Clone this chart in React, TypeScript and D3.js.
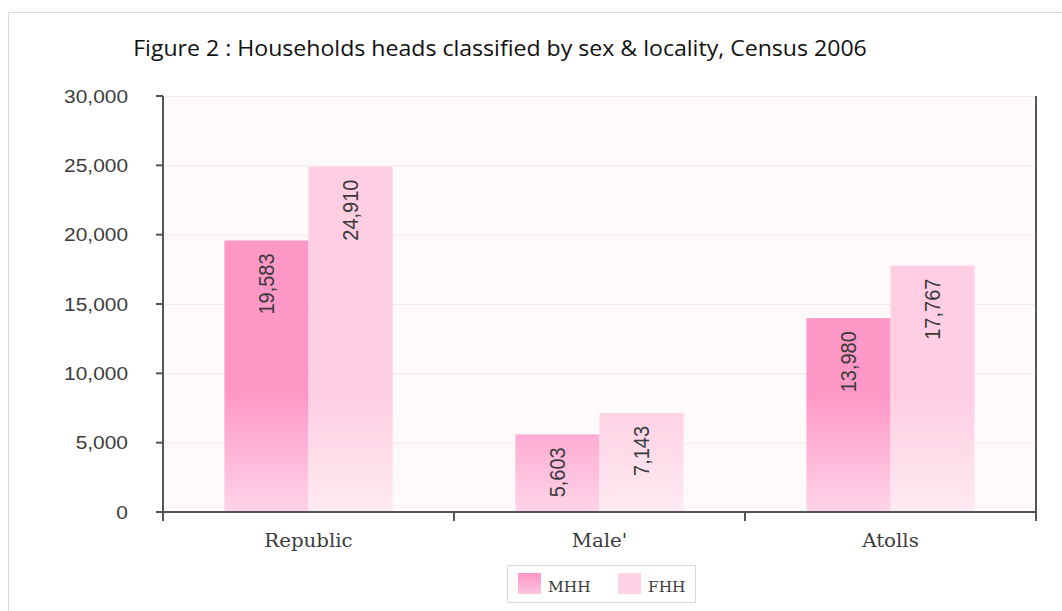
import * as d3 from 'd3'
import { useEffect, useRef } from 'react'

const W = 1062, H = 611
const SX = 1.1 // the source picture is a little stretched sideways

const title = 'Figure 2 : Households heads classified by sex & locality, Census 2006'
const categories = ['Republic', "Male'", 'Atolls']
const series = ['MHH', 'FHH']
const mhh = [19583, 5603, 13980]
const fhh = [24910, 7143, 17767]
const yTicks = [0, 5000, 10000, 15000, 20000, 25000, 30000]

const left = 163, right = 1036, top = 96, bottom = 512

const chart = (node: SVGSVGElement) => {
  const svg = d3.select(node)
  svg.selectAll('*').remove()

  const x0 = d3.scaleBand().domain(categories).range([left, right])
  const x1 = d3.scaleBand().domain(series).range([0, x0.bandwidth()]).paddingInner(0).paddingOuter(0.73)
  const y = d3.scaleLinear().domain([0, 30000]).range([bottom, top])
  const fmt = d3.format(',')

  const defs = svg.append('defs')
  const grad = (id: string, c0: string, c1: string) => {
    const g = defs.append('linearGradient').attr('id', id)
      .attr('gradientUnits', 'userSpaceOnUse')
      .attr('x1', 0).attr('x2', 0).attr('y1', 395).attr('y2', bottom)
    g.append('stop').attr('offset', 0).attr('stop-color', c0)
    g.append('stop').attr('offset', 1).attr('stop-color', c1)
  }
  grad('g-mhh', '#ff98c7', '#ffd4e8')
  grad('g-fhh', '#ffcee2', '#ffeaf3')
  const fill = { MHH: 'url(#g-mhh)', FHH: 'url(#g-fhh)' } as Record<string, string>

  // outer frame
  svg.append('rect').attr('x', 8.5).attr('y', 12.5).attr('width', W).attr('height', H)
    .attr('fill', 'none').attr('stroke', '#dcdcdc')

  svg.append('text')
    .attr('transform', `translate(500,56) scale(${SX},1)`)
    .attr('text-anchor', 'middle')
    .attr('font-family', 'Open Sans')
    .attr('font-size', 21)
    .attr('fill', '#111')
    .text(title)

  // plot background + grid
  svg.append('rect').attr('x', left).attr('y', top).attr('width', right - left).attr('height', bottom - top)
    .attr('fill', '#fffafa')
  svg.append('g').selectAll('line').data(yTicks.slice(1)).join('line')
    .attr('x1', left).attr('x2', right)
    .attr('y1', d => y(d) + 0.5).attr('y2', d => y(d) + 0.5)
    .attr('stroke', '#f6e6e8')

  // bars
  const rows = categories.map((c, i) => ({ c, vals: [{ k: 'MHH', v: mhh[i] }, { k: 'FHH', v: fhh[i] }] }))
  const grp = svg.append('g').selectAll('g').data(rows).join('g')
    .attr('transform', d => `translate(${x0(d.c)},0)`)
  grp.selectAll('rect').data(d => d.vals).join('rect')
    .attr('x', d => x1(d.k)!)
    .attr('width', x1.bandwidth())
    .attr('y', d => y(d.v))
    .attr('height', d => y(0) - y(d.v))
    .attr('fill', d => fill[d.k])
  grp.selectAll('text').data(d => d.vals).join('text')
    .attr('transform', d => `translate(${x1(d.k)! + x1.bandwidth() / 2},${y(d.v) + 13}) scale(${SX},1) rotate(-90)`)
    .attr('text-anchor', 'end')
    .attr('dy', '0.35em')
    .attr('font-family', 'Liberation Sans')
    .attr('font-size', 20)
    .attr('fill', '#3a3a3a')
    .text(d => fmt(d.v))

  // axes
  const axis = svg.append('g').attr('stroke', '#555').attr('stroke-width', 2)
  axis.append('line').attr('x1', left).attr('x2', left).attr('y1', top).attr('y2', 521)
  axis.append('line').attr('x1', right).attr('x2', right).attr('y1', top).attr('y2', 521)
  axis.append('line').attr('x1', left).attr('x2', right).attr('y1', bottom).attr('y2', bottom)
  axis.selectAll('.yt').data(yTicks).join('line')
    .attr('x1', left - 7).attr('x2', left).attr('y1', d => y(d)).attr('y2', d => y(d))
  const bounds = [...categories.map(c => x0(c)!), right]
  axis.selectAll('.xt').data(bounds).join('line')
    .attr('x1', d => d).attr('x2', d => d).attr('y1', bottom).attr('y2', 521)

  svg.append('g').selectAll('text').data(yTicks).join('text')
    .attr('transform', d => `translate(128,${y(d)}) scale(${SX},1)`)
    .attr('text-anchor', 'end')
    .attr('dy', '0.35em')
    .attr('font-family', 'Liberation Sans')
    .attr('font-size', 19)
    .attr('fill', '#3c3c3c')
    .text(d => fmt(d))

  svg.append('g').selectAll('text').data(categories).join('text')
    .attr('transform', d => `translate(${x0(d)! + x0.bandwidth() / 2},547) scale(${SX},1)`)
    .attr('text-anchor', 'middle')
    .attr('font-family', 'DejaVu Serif')
    .attr('font-size', 18)
    .attr('fill', '#3c3c3c')
    .text(d => d)

  // legend
  const lg = svg.append('g')
  lg.append('rect').attr('x', 507.5).attr('y', 565.5).attr('width', 188).attr('height', 37)
    .attr('fill', '#fff').attr('stroke', '#dadada')
  const items = lg.selectAll('g').data(series).join('g')
    .attr('transform', (d, i) => `translate(${518 + i * 100},573)`)
  const sg = defs.append('linearGradient').attr('id', 'g-sw-mhh').attr('x1', 0).attr('x2', 0).attr('y1', 0).attr('y2', 1)
  sg.append('stop').attr('offset', 0).attr('stop-color', '#ff96c6')
  sg.append('stop').attr('offset', 1).attr('stop-color', '#ffc4de')
  items.append('rect').attr('width', 23).attr('height', 21)
    .attr('fill', d => d === 'MHH' ? 'url(#g-sw-mhh)' : '#ffd3e6')
  items.append('text')
    .attr('transform', `translate(30,19) scale(${SX},1)`)
    .attr('font-family', 'DejaVu Serif')
    .attr('font-size', 14)
    .attr('fill', '#3c3c3c')
    .text(d => d)
}

export default function App() {
  const ref = useRef<SVGSVGElement>(null)
  useEffect(() => {
    if (ref.current) chart(ref.current)
  }, [])
  return (
    <svg ref={ref} width={W} height={H}
      style={{ position: 'absolute', left: 0, top: 0, background: '#fff' }} />
  )
}
